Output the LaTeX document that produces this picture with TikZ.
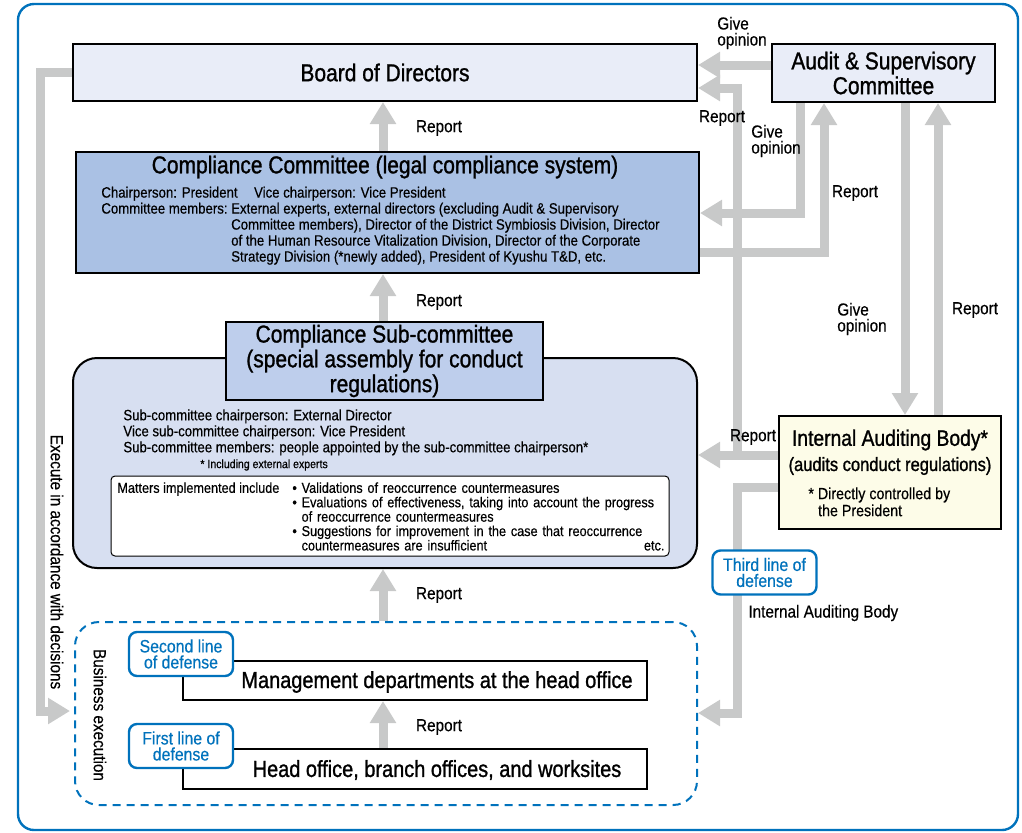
\documentclass[tikz,border=0pt]{standalone}
\usepackage{fontspec}
\setmainfont[FakeStretch=0.88,FakeBold=0.4]{Liberation Sans}
\newfontfamily\headfont[FakeStretch=0.86,FakeBold=1.1]{Liberation Sans}
\usetikzlibrary{arrows.meta,positioning,backgrounds,calc}

\definecolor{frameblue}{RGB}{0,114,188}
\definecolor{flowgrey}{RGB}{200,201,201}
\definecolor{boardfill}{RGB}{233,237,248}
\definecolor{ccfill}{RGB}{170,193,228}
\definecolor{subfill}{RGB}{215,223,241}
\definecolor{subtitlefill}{RGB}{190,206,236}
\definecolor{iabfill}{RGB}{253,252,232}

\newcommand\bigsize{\headfont\fontsize{12.2}{12.4}\selectfont}
\newcommand\boxsize{\headfont\fontsize{11.6}{12}\selectfont}
\newcommand\iabsize{\headfont\fontsize{11.2}{12}\selectfont}
\newcommand\midsize{\headfont\fontsize{9.6}{11}\selectfont}
\newcommand\smallsize{\fontsize{7.5}{8}\selectfont}
\newcommand\listsize{\fontsize{7.2}{7.2}\selectfont}
\newcommand\tinysize{\fontsize{6}{7}\selectfont}
\newcommand\lblsize{\fontsize{8.7}{8}\selectfont}
\newcommand\notesize{\fontsize{8.1}{8.5}\selectfont}
\newcommand\tagsize{\fontsize{9}{8}\selectfont}

\begin{document}
\begin{tikzpicture}[x=0.5pt, y=-0.5pt,
    box/.style={draw=black, line width=1pt, inner sep=0pt},
    flow/.style={draw=flowgrey, line width=4.5pt, -{Triangle[width=12.5pt,length=11pt]}},
    lbl/.style={inner sep=0pt, align=left, font=\lblsize},
    tag/.style={draw=frameblue, line width=1.2pt, rounded corners=4pt, fill=white,
                text=frameblue, align=center, inner sep=0pt, font=\tagsize,
                minimum width=52pt, minimum height=22pt}]

\useasboundingbox (0,0) rectangle (1022,832);
\node[draw=frameblue, line width=1.2pt, rounded corners=8pt,
      minimum width=500pt, minimum height=413pt] (frame) at (518,417) {};

% governance
\node[box, fill=boardfill, minimum width=312pt, minimum height=28.5pt, font=\bigsize]
    (board) at (385,72.5) {Board of Directors};
\node[box, fill=boardfill, minimum width=111.5pt, minimum height=29pt, align=center, font=\bigsize]
    (audit) at (883.5,73) {Audit \& Supervisory\\Committee};

\node[box, fill=ccfill, minimum width=311.5pt, minimum height=60.5pt] (cc) at (387.5,212.5) {};
\node[font=\bigsize, inner sep=0pt] (cctitle) at (385,167) {Compliance Committee (legal compliance system)};
\node[lbl, font=\smallsize, anchor=north west] (ccbody) at (101,186) {%
  \begin{tabular}{@{}l@{\ }l@{}}
  \multicolumn{2}{@{}l}{Chairperson: President\hspace{1.1em}Vice chairperson: Vice President}\\
  Committee members: & External experts, external directors (excluding Audit \& Supervisory\\
   & Committee members), Director of the District Symbiosis Division, Director\\
   & of the Human Resource Vitalization Division, Director of the Corporate\\
   & Strategy Division (*newly added), President of Kyushu T\&D, etc.
  \end{tabular}};

% sub-committee
\node[box, fill=subfill, rounded corners=12pt, minimum width=312pt, minimum height=105pt] (sub) at (385,463) {};
\node[box, fill=subtitlefill, minimum width=158.5pt, minimum height=39pt, align=center, font=\bigsize]
    (subtitle) at (384.5,361) {Compliance Sub-committee\\(special assembly for conduct\\regulations)};
\node[lbl, font=\smallsize, anchor=north west] (subbody) at (123,409) {Sub-committee chairperson: External Director\\
  Vice sub-committee chairperson: Vice President\\
  Sub-committee members: people appointed by the sub-committee chairperson*};
\node[lbl, font=\tinysize, anchor=north west] (subnote) at (200,459) {* Including external experts};
\node[draw=black, line width=0.5pt, fill=white, rounded corners=2pt,
      minimum width=279pt, minimum height=40pt] (matters) at (390,516) {};
\node[lbl, font=\listsize, anchor=north west] (matterslead) at (117,482) {Matters implemented include};
\node[lbl, font=\listsize, anchor=north west, text width=186pt] (matterslist) at (292,482) {%
  \textbullet\ Validations of reoccurrence countermeasures\\
  \textbullet\ Evaluations of effectiveness, taking into account the progress\\
  \phantom{\textbullet\ }of reoccurrence countermeasures\\
  \textbullet\ Suggestions for improvement in the case that reoccurrence\\
  \phantom{\textbullet\ }countermeasures are insufficient\hfill etc.};

% internal audit
\node[box, fill=iabfill, minimum width=111pt, minimum height=56.5pt] (iab) at (890,472.5) {};
\node[font=\iabsize, inner sep=0pt] (iabtitle) at (890,440) {Internal Auditing Body*};
\node[font=\midsize, inner sep=0pt] (iabsub) at (890,466) {(audits conduct regulations)};
\node[lbl, font=\notesize, anchor=north west] (iabnote) at (808,487) {* Directly controlled by\\\hspace*{0.6em}the President};

% business execution
\node[draw=frameblue, dash pattern=on 4pt off 3pt, line width=1pt, rounded corners=12pt,
      minimum width=311pt, minimum height=91.5pt] (biz) at (386,713.5) {};
\node[box, fill=white, minimum width=232pt, minimum height=19.5pt] (mgmt) at (415,680.5) {};
\node[font=\boxsize, inner sep=0pt] (mgmttext) at (437,682) {Management departments at the head office};
\node[box, fill=white, minimum width=232pt, minimum height=20pt] (head) at (415,769) {};
\node[font=\boxsize, inner sep=0pt] (headtext) at (437,770) {Head office, branch offices, and worksites};
\node[tag] (second) at (181,654) {Second line\\of defense};
\node[tag] (first) at (181,746) {First line of\\defense};
\node[tag] (third) at (764.5,572.5) {Third line of\\defense};
\node[lbl, anchor=west] (iablabel) at (748,613) {Internal Auditing Body};

\node[lbl, rotate=-90] (execlabel) at (57,562) {Execute in accordance with decisions};
\node[lbl, rotate=-90] (bizlabel) at (100,715) {Business execution};

% arrow labels
\node[lbl] (opinion1) at (742,33) {Give\\opinion};
\node[lbl] (report1) at (722,118) {Report};
\node[lbl] (opinion2) at (776,141) {Give\\opinion};
\node[lbl] (report2) at (855,193) {Report};
\node[lbl] (opinion3) at (862,319) {Give\\opinion};
\node[lbl] (report3) at (975,310) {Report};
\node[lbl] (report4) at (753,437) {Report};
\node[lbl] (report5) at (439,128) {Report};
\node[lbl] (report6) at (439,302) {Report};
\node[lbl] (report7) at (439,595) {Report};
\node[lbl] (report8) at (439,727) {Report};

\begin{scope}[on background layer]
\coordinate (spine) at (383,0);
\draw[flow] (spine |- cc.north) -- (spine |- board.south);
\draw[flow] (spine |- subtitle.north) -- (spine |- cc.south);
\draw[flow] (spine |- biz.north) -- (spine |- sub.south);
\draw[flow] (spine |- head.north) -- (spine |- mgmt.south);

\draw[flow] (audit.west |- 0,65) -- (board.east |- 0,65);
\coordinate (rjoin) at (737,455);
\draw[flow] (iab.west |- rjoin) -- (sub.east |- rjoin);
\draw[flow] (rjoin) |- (board.east |- 0,88);
\draw[flow] (audit.south -| 800,0) |- (cc.east |- 0,213);
\draw[flow] (cc.east |- 0,252) -| (audit.south -| 824,0);
\draw[flow] (audit.south -| 905,0) -- (iab.north -| 905,0);
\draw[flow] (iab.north -| 938,0) -- (audit.south -| 938,0);
\coordinate (tdown) at (737,713);
\draw[flow] (iab.west |- 0,487) -| (tdown) -- (biz.east |- tdown);

\coordinate (xdown) at (40,711);
\draw[flow] (board.west) -| (xdown) -- ([xshift=-2pt]biz.west |- xdown);
\end{scope}
\end{tikzpicture}
\end{document}
